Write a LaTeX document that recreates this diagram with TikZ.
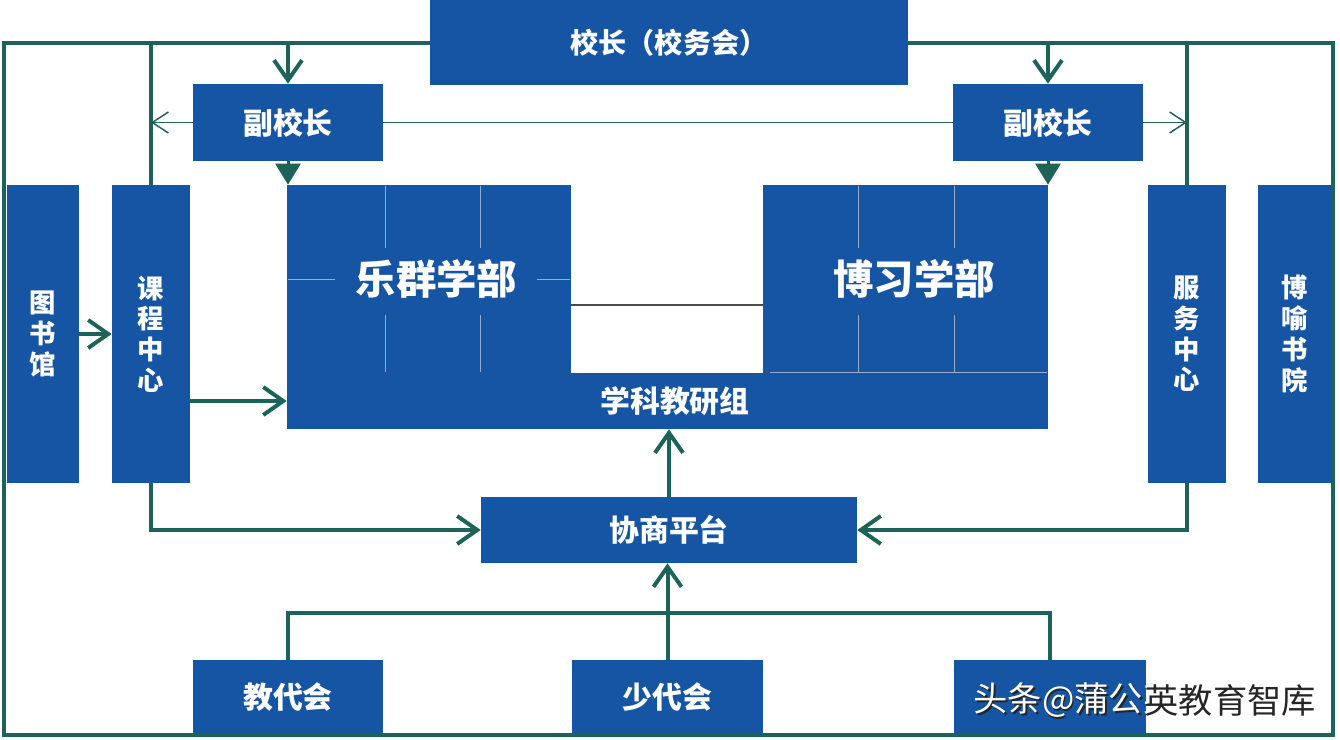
\documentclass[tikz,border=0pt]{standalone}
\usepackage{fontspec}
\usepackage{tikz}
\usetikzlibrary{arrows.meta}
\newfontfamily\cjk{Noto Sans CJK SC}
\definecolor{boxblue}{RGB}{22,84,164}
\definecolor{linkteal}{RGB}{30,99,89}
\definecolor{gridgray}{RGB}{150,172,200}

\begin{document}
\begin{tikzpicture}[
    x=0.02cm, y=-0.02cm,
    >={Straight Barb[length=0.4cm, width=0.56cm]},
    box/.style={
        fill=boxblue, text=white, inner sep=0pt,
        font=\cjk\bfseries\fontsize{17}{19}\selectfont,
        text centered, align=center
    },
    tall/.style={
        box, minimum height=5.96cm,
        font=\cjk\bfseries\fontsize{15}{17.5}\selectfont
    },
    dept/.style={
        box, minimum width=5.7cm, minimum height=3.76cm,
        font=\cjk\bfseries\fontsize{23}{25}\selectfont
    },
    link/.style={line width=0.08cm, draw=linkteal},
    arr/.style={link, ->},
    thinarr/.style={-{Straight Barb[length=0.32cm, width=0.42cm]}, line width=0.03cm, draw=linkteal},
    tip/.style={-{Triangle[length=0.42cm, width=0.5cm]}, line width=0.06cm, draw=linkteal, fill=linkteal},
    grid/.style={draw=gridgray, line width=0.5pt},
]
\useasboundingbox (0,0) rectangle (1340,740);

% Outer frame behind everything
\coordinate (ftl) at (4,43);
\coordinate (ftr) at (1333,43);
\coordinate (fbr) at (1333,735);
\coordinate (fbl) at (4,735);
\draw[link] (fbl) -- (ftl) -- (ftr) -- (fbr) -- cycle;

% Top row: principal and two vice principals
\node[box, minimum width=9.56cm, minimum height=1.7cm,
      font=\cjk\bfseries\fontsize{16}{18}\selectfont] (head) at (669,42.5) {校长（校务会）};
\node[box, minimum width=3.8cm, minimum height=1.54cm] (vpL) at (288,122.5) {副校长};
\node[box, minimum width=3.8cm, minimum height=1.54cm] (vpR) at (1048,122.5) {副校长};

% Side columns
\node[tall, minimum width=1.44cm] (lib) at (43,334) {图\\书\\馆};
\node[tall, minimum width=1.56cm] (course) at (151,334) {课\\程\\中\\心};
\node[tall, minimum width=1.56cm] (service) at (1187,334) {服\\务\\中\\心};
\node[tall, minimum width=1.46cm] (academy) at (1294.5,334) {博\\喻\\书\\院};

% Centre: two divisions on the research-group bar
\node[dept, minimum width=5.68cm] (lequn) at (429,279) {\hspace{0.3cm}乐群学部};
\node[dept] (boxi) at (905.5,279) {\hspace{0.35cm}博习学部};
\node[box, minimum width=15.22cm, minimum height=1.12cm] (jiaoyan) at (667.5,401) {\hspace{0.3cm}学科教研组};

% Faint grid inside the divisions
\foreach \gx in {385,480,858,954} {
    \draw[grid] (\gx,186) -- (\gx,248);
    \draw[grid] (\gx,315) -- (\gx,372);
}
\draw[grid] (288,279) -- (335,279);
\draw[grid] (537,279) -- (570,279);
\draw[grid] (770,372) -- (1047,372);

% Bottom: platform and the three councils
\node[box, minimum width=7.52cm, minimum height=1.32cm] (xieshang) at (669,530) {协商平台};
\node[box, minimum width=3.8cm, minimum height=1.48cm] (jiaodai) at (288,697) {教代会};
\node[box, minimum width=3.82cm, minimum height=1.48cm] (shaodai) at (667.5,697) {少代会};
\node[box, minimum width=3.86cm, minimum height=1.48cm] (third) at (1050,697) {};

% Frame down to the vice principals and side columns
\draw[arr] (vpL.north |- ftl) -- (vpL.north);
\draw[arr] (vpR.north |- ftl) -- (vpR.north);
\draw[link] (course.north |- ftl) -- (course.north);
\draw[link] (service.north |- ftl) -- (service.north);

% Thin links between vice principals
\draw[thinarr] (vpL.west) -- (course.north |- vpL.west);
\draw[line width=0.03cm, draw=linkteal] (vpL.east) -- (vpR.west);
\draw[thinarr] (vpR.east) -- (service.north |- vpR.east);

% Vice principals point into the divisions
\draw[tip] (vpL.south) -- (vpL.south |- lequn.north);
\draw[tip] (vpR.south) -- (vpR.south |- boxi.north);

% Link between the two divisions
\coordinate (mid) at (0,305);
\draw[line width=0.03cm, draw=black!70] (lequn.east |- mid) -- (boxi.west |- mid);

% Library and course centre
\draw[arr] (lib.east) -- (course.west);
\draw[arr] (course.east |- jiaoyan.west) -- (jiaoyan.west);

% Into the consultation platform
\draw[arr] (course.south) |- (xieshang.west);
\draw[arr] (service.south) |- (xieshang.east);
\draw[arr] (xieshang.north) -- (xieshang.north |- jiaoyan.south);
\draw[arr] (shaodai.north) -- (shaodai.north |- xieshang.south);
\draw[link] (jiaodai.north) -- ++(0,-47) -| (third.north);

% Watermark over the right council
\node[text=black!85, font=\cjk\fontsize{19.5}{21}\selectfont] (mark) at (1145.5,701.5) {头条@蒲公英教育智库};
\begin{scope}
    \clip (third.south west) rectangle (third.north east);
    \node[text=white, font=\cjk\fontsize{19.5}{21}\selectfont] (markw) at (1144,700) {头条@蒲公英教育智库};
\end{scope}

\end{tikzpicture}
\end{document}
